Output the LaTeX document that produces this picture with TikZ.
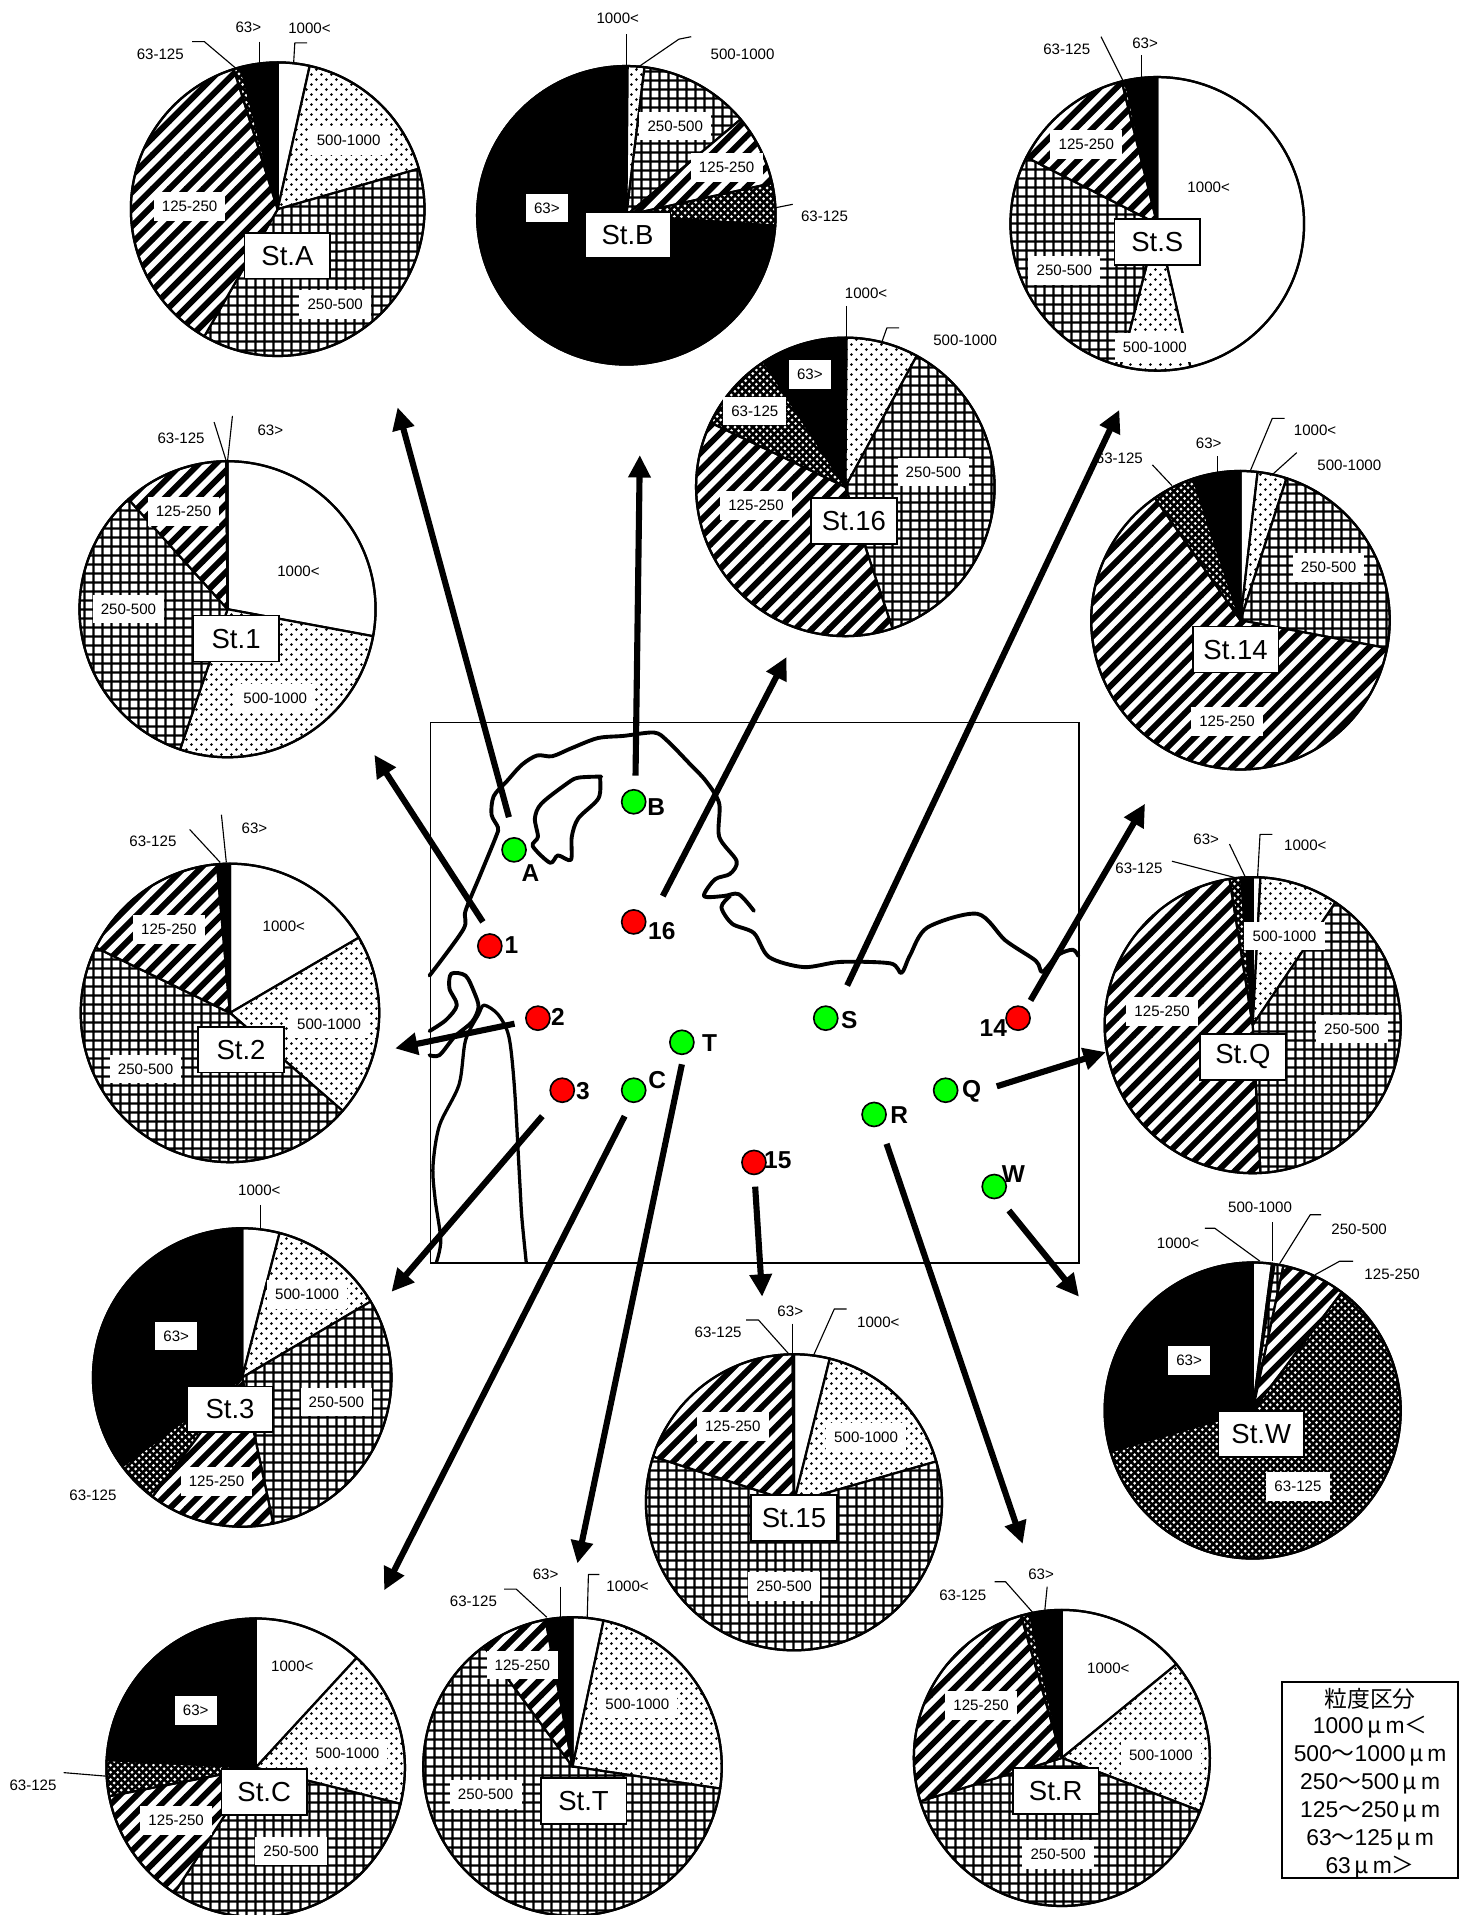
\documentclass[tikz,border=0pt]{standalone}
\usepackage{fontspec}
\setmainfont{Liberation Sans}
\newfontfamily\cjk{Noto Sans CJK JP}
\usetikzlibrary{arrows.meta,patterns}
\pgfdeclarepatternformonly{pgrid}{\pgfqpoint{0pt}{0pt}}{\pgfqpoint{4.4pt}{4.4pt}}{\pgfqpoint{4.4pt}{4.4pt}}{%
  \pgfsetlinewidth{1.15pt}%
  \pgfpathmoveto{\pgfqpoint{2.2pt}{0pt}}\pgfpathlineto{\pgfqpoint{2.2pt}{4.4pt}}%
  \pgfpathmoveto{\pgfqpoint{0pt}{2.2pt}}\pgfpathlineto{\pgfqpoint{4.4pt}{2.2pt}}%
  \pgfusepath{stroke}}
\pgfdeclarepatternformonly{pstripe}{\pgfqpoint{-1pt}{-1pt}}{\pgfqpoint{9.3pt}{9.3pt}}{\pgfqpoint{8.3pt}{8.3pt}}{%
  \pgfsetlinewidth{2.9pt}%
  \pgfpathmoveto{\pgfqpoint{-1pt}{-1pt}}\pgfpathlineto{\pgfqpoint{9.3pt}{9.3pt}}%
  \pgfusepath{stroke}}
\pgfdeclarepatternformonly{pdots}{\pgfqpoint{0pt}{0pt}}{\pgfqpoint{4.9pt}{4.9pt}}{\pgfqpoint{4.9pt}{4.9pt}}{%
  \pgfpathcircle{\pgfqpoint{1.2pt}{1.2pt}}{0.72pt}%
  \pgfpathcircle{\pgfqpoint{3.65pt}{3.65pt}}{0.72pt}%
  \pgfusepath{fill}}
\pgfdeclarepatternformonly{pcross}{\pgfqpoint{-.5pt}{-.5pt}}{\pgfqpoint{4pt}{4pt}}{\pgfqpoint{3.5pt}{3.5pt}}{%
  \pgfsetlinewidth{1.25pt}%
  \pgfpathmoveto{\pgfqpoint{-.5pt}{-.5pt}}\pgfpathlineto{\pgfqpoint{4pt}{4pt}}%
  \pgfpathmoveto{\pgfqpoint{-.5pt}{4pt}}\pgfpathlineto{\pgfqpoint{4pt}{-.5pt}}%
  \pgfusepath{stroke}}
\newcounter{nm}
\tikzset{
  pieline/.style={line width=1.1pt,line join=round},
  leaderline/.style={line width=0.55pt,line join=round},
  smalltext/.style={font=\fontsize{7.4pt}{8pt}\selectfont,inner sep=0pt},
  inlabel/.style={font=\fontsize{7.4pt}{8pt}\selectfont,fill=white,inner xsep=4pt,inner ysep=0pt,minimum height=14pt},
  stbox/.style={draw=black,line width=.8pt,fill=white,font=\fontsize{13.5pt}{15pt}\selectfont,minimum width=42pt,minimum height=22.5pt,inner sep=0pt},
  stat/.style={circle,draw=black,line width=.8pt,minimum size=11.8pt,inner sep=0pt},
  grn/.style={stat,fill=green},
  rd/.style={stat,fill=red},
  stlabel/.style={font=\fontsize{12pt}{14pt}\selectfont\bfseries,inner sep=0pt},
  bigarrow/.style={line width=3pt,-{Triangle[length=11pt,width=10.5pt]}},
  coast/.style={line width=1.9pt,line join=round,line cap=round},
  legendline/.style={font=\fontsize{11.2pt}{13pt}\selectfont,inner sep=0pt},
}
\newcommand\sect[3]{%
  \fill[white] (0,0) -- (90-#1:\pr) arc[start angle=90-#1,end angle=90-#2,radius=\pr] -- cycle;
  \fill[#3] (0,0) -- (90-#1:\pr) arc[start angle=90-#1,end angle=90-#2,radius=\pr] -- cycle;
  \draw[pieline] (0,0) -- (90-#1:\pr) arc[start angle=90-#1,end angle=90-#2,radius=\pr] -- cycle;}
\newcommand\piechart[8]{%
  \begin{scope}[shift={(#1,#2)},x=.6pt,y=.6pt]
  \def\pr{#3}
  \sect{0}{#4}{white}
  \sect{#4}{#5}{pattern=pdots}
  \sect{#5}{#6}{pattern=pgrid}
  \sect{#6}{#7}{pattern=pstripe}
  \sect{#7}{#8}{pattern=pcross}
  \sect{#8}{360}{black}
  \draw[pieline] (0,0) circle[radius=\pr];
  \end{scope}}
\newcommand\outl[3]{\stepcounter{nm}\node[smalltext] (t\thenm) at (#1,#2) {#3};}
\newcommand\inl[3]{\stepcounter{nm}\node[inlabel] (t\thenm) at (#1,#2) {#3};}
\newcommand\stb[3]{\stepcounter{nm}\node[stbox] (t\thenm) at (#1,#2) {#3};}
\newcommand\leadtwo[2]{\stepcounter{nm}\coordinate (la\thenm) at (#1); \coordinate (lb\thenm) at (#2); \draw[leaderline] (la\thenm) -- (lb\thenm);}
\newcommand\leadthree[3]{\stepcounter{nm}\coordinate (la\thenm) at (#1); \coordinate (lb\thenm) at (#2); \coordinate (lc\thenm) at (#3); \draw[leaderline] (la\thenm) -- (lb\thenm) -- (lc\thenm);}
\newcommand\bigarr[5]{\coordinate (ta#1) at (#2,#3); \coordinate (he#1) at (#4,#5); \draw[bigarrow] (ta#1) -- (he#1);}
\newcommand\mum{\,{\cjk μ}\,m}
\begin{document}
\begin{tikzpicture}[x=.6pt,y=-.6pt]
\useasboundingbox (0,0) rectangle (1200,1565.4);
\fill[white] (0,0) rectangle (1200,1565.4);
% St.A
\piechart{227}{171}{120}{12.6}{74}{210}{342.6}{345.5}
\inl{285}{115}{500-1000}\inl{274}{249}{250-500}\inl{155}{169}{125-250}
\outl{131}{44}{63-125}\outl{203}{22}{63>}\outl{253}{23}{1000<}
\leadthree{157,34}{167,34}{193,56}\leadtwo{212,34}{212,52}\leadthree{251,35}{241,35}{240,52}
\stb{235}{209}{St.A}
% St.B
\piechart{512}{176}{122}{0.5}{7}{50}{77.6}{94}
\inl{552}{103}{250-500}\inl{594}{137}{125-250}\inl{447}{170}{63>}
\outl{505}{15}{1000<}\outl{607}{44}{500-1000}\outl{674}{177}{63-125}
\leadtwo{512,28}{512,55}\leadthree{565,30}{555,32}{520,56}\leadtwo{633,170}{648,167}
\stb{513}{192}{St.B}
% St.S
\piechart{946}{183}{120}{167}{194.5}{297}{346}{347.5}
\inl{988}{153}{1000<}\inl{888}{118}{125-250}\inl{870}{221}{250-500}\inl{944}{284}{500-1000}
\outl{872}{40}{63-125}\outl{936}{35}{63>}
\leadtwo{900,30}{919,68}\leadtwo{933,45}{933,65}
\stb{946}{198}{St.S}
% St.16
\piechart{691}{398}{122}{0.5}{28.6}{161.6}{295.5}{327}
\inl{662}{306}{63>}\inl{617}{336}{63-125}\inl{763}{386}{250-500}\inl{618}{413}{125-250}
\outl{708}{240}{1000<}\outl{789}{278}{500-1000}
\leadtwo{692,250}{692,276}\leadthree{735,268}{725,268}{720,282}
\stb{698}{426}{St.16}
% St.1
\piechart{186}{498}{121}{100.5}{198.7}{318}{359.5}{359.7}
\inl{244}{467}{1000<}\inl{150}{418}{125-250}\inl{105}{498}{250-500}\inl{225}{571}{500-1000}
\outl{148}{358}{63-125}\outl{221}{352}{63>}
\leadtwo{175,345}{185,377}\leadtwo{190,340}{186,377}
\stb{193}{522}{St.1}
% St.14
\piechart{1014}{507}{122}{6.6}{18}{100.8}{325}{341.6}
\inl{1086}{464}{250-500}\inl{1003}{590}{125-250}
\outl{915}{375}{63-125}\outl{988}{362}{63>}\outl{1075}{352}{1000<}\outl{1103}{380}{500-1000}
\leadtwo{942,380}{958,397}\leadtwo{995,373}{995,386}\leadthree{1050,342}{1040,342}{1022,385}\leadtwo{1060,370}{1040,388}
\stb{1010}{531}{St.14}
% St.2
\piechart{188}{828}{122}{59.7}{131}{296}{355}{355.5}
\inl{232}{757}{1000<}\inl{138}{760}{125-250}\inl{269}{837}{500-1000}\inl{119}{874}{250-500}
\outl{125}{688}{63-125}\outl{208}{677}{63>}
\leadtwo{155,678}{180,705}\leadtwo{181,666}{185,705}
\stb{197}{858}{St.2}
% St.Q
\piechart{1024}{838}{121}{3}{34}{177}{351}{355.5}
\inl{1050}{765}{500-1000}\inl{950}{827}{125-250}\inl{1105}{841}{250-500}
\outl{931}{710}{63-125}\outl{986}{686}{63>}\outl{1067}{691}{1000<}
\leadtwo{958,704}{1012,718}\leadtwo{1005,690}{1018,717}\leadthree{1040,682}{1030,682}{1028,717}
\stb{1016}{864}{St.Q}
% St.3
\piechart{198}{1126}{122}{14.5}{59.4}{168}{217}{233.5}
\inl{251}{1058}{500-1000}\inl{144}{1092}{63>}\inl{275}{1146}{250-500}\inl{177}{1211}{125-250}
\outl{212}{973}{1000<}\outl{76}{1222}{63-125}
\leadtwo{213,985}{213,1005}
\stb{188}{1152}{St.3}
% St.W
\piechart{1024}{1153}{121}{7.5}{8.5}{12}{37}{254}
\inl{972}{1112}{63>}\inl{1061}{1215}{63-125}
\outl{1030}{987}{500-1000}\outl{963}{1016}{1000<}\outl{1111}{1005}{250-500}\outl{1138}{1042}{125-250}
\leadthree{985,1004}{993,1004}{1030,1031}\leadtwo{1040,999}{1040,1031}\leadthree{1080,993}{1071,993}{1046,1033}\leadthree{1106,1031}{1095,1031}{1075,1042}
\stb{1031}{1172}{St.W}
% St.15
\piechart{649}{1228}{121}{14}{74}{288}{359.5}{359.7}
\inl{599}{1166}{125-250}\inl{708}{1175}{500-1000}\inl{641}{1297}{250-500}
\outl{587}{1089}{63-125}\outl{646}{1072}{63>}\outl{718}{1081}{1000<}
\leadthree{610,1079}{620,1079}{645,1107}\leadtwo{648,1082}{648,1107}\leadthree{692,1070}{682,1070}{665,1108}
\stb{649}{1241}{St.15}
% St.C
\piechart{209}{1445}{122}{42.6}{104}{213}{259}{273}
\inl{239}{1362}{1000<}\inl{160}{1398}{63>}\inl{284}{1433}{500-1000}\inl{144}{1488}{125-250}\inl{238}{1513}{250-500}
\outl{27}{1459}{63-125}
\leadtwo{52,1449}{88,1452}
\stb{216}{1465}{St.C}
% St.T
\piechart{468}{1444}{122}{12}{98.5}{323.6}{349.6}{350.5}
\inl{427}{1361}{125-250}\inl{521}{1393}{500-1000}\inl{397}{1467}{250-500}
\outl{387}{1309}{63-125}\outl{446}{1287}{63>}\outl{513}{1297}{1000<}
\leadthree{412,1299}{422,1299}{447,1322}\leadtwo{458,1297}{458,1322}\leadthree{490,1287}{481,1287}{480,1323}
\stb{477}{1472}{St.T}
% St.R
\piechart{868}{1437}{121}{50.7}{111}{253}{344}{347.5}
\inl{906}{1364}{1000<}\inl{802}{1394}{125-250}\inl{949}{1435}{500-1000}\inl{865}{1516}{250-500}
\outl{787}{1304}{63-125}\outl{851}{1287}{63>}
\leadthree{813,1293}{822,1293}{845,1319}\leadtwo{856,1297}{854,1317}
\stb{863}{1464}{St.R}
% Map
\draw[line width=.8pt] (352,590.5) rectangle (882,1032.5);
\begin{scope}[shift={(343.3,572.2)},x=0.2127pt,y=-0.18144pt]
\draw[coast] plot[smooth,tension=.5] coordinates {(22,745)(100,620)(105,570)(140,470)(175,370)(180,345)(165,310)(170,260)(200,220)(235,175)(270,150)(305,152)(350,130)(410,103)(470,97)(540,88)(570,110)(620,170)(660,220)(690,280)(690,370)(730,435)(715,470)(680,485)(655,530)(700,530)(735,525)(770,570)};
\draw[coast] plot[smooth,tension=.5] coordinates {(715,530)(695,560)(720,605)(770,630)(805,695)(885,722)(970,708)(1085,712)(1110,738)(1130,690)(1170,615)(1285,578)(1350,650)(1420,705)(1435,735)(1470,690)(1505,675)(1518,692)};
\draw[coast] plot[smooth,tension=.5] coordinates {(22,895)(60,865)(85,825)(68,780)(72,740)(105,745)(125,790)(135,830)(120,870)(80,910)(45,960)(22,960)};
\draw[coast,line width=1.6pt] plot[smooth,tension=.5] coordinates {(38,1520)(48,1460)(35,1350)(30,1260)(45,1150)(90,1040)(105,920)(135,850)(148,825)(180,850)(205,910)(218,1050)(230,1300)(235,1400)(245,1520)};
\draw[coast] plot[smooth,tension=.5] coordinates {(418,207)(365,210)(340,225)(280,280)(265,320)(272,370)(260,395)(300,440)(318,420)(348,432)(350,370)(365,320)(412,265)(415,207)};
\end{scope}
% arrows
\bigarr{A}{416}{668}{325}{333}
\bigarr{B}{519.5}{634}{523}{372}
\bigarr{P}{541.8}{732.5}{643}{537}
\bigarr{S}{692.5}{805.6}{915}{335}
\bigarr{N}{842.4}{817.8}{936}{657}
\bigarr{I}{394.7}{753.6}{306}{617}
\bigarr{II}{420.6}{836.8}{323}{857}
\bigarr{III}{443.3}{912.4}{320}{1056}
\bigarr{C}{510.6}{912.4}{314}{1300}
\bigarr{T}{557.4}{870}{472}{1278}
\bigarr{V}{617.3}{970}{623}{1060}
\bigarr{R}{724.7}{935}{836}{1262}
\bigarr{W}{824.7}{989.5}{882}{1060}
\bigarr{Q}{814.8}{888}{904}{860}
% stations
\node[grn] (sA) at (420.2,694.7) {};
\node[grn] (sB) at (518,655.4) {};
\node[rd] (s1) at (400.4,773.3) {};
\node[rd] (s16) at (518,753.6) {};
\node[rd] (s2) at (439.7,832.3) {};
\node[rd] (s3) at (459.6,891.2) {};
\node[grn] (sC) at (518,891.2) {};
\node[grn] (sT) at (557.4,852) {};
\node[grn] (sS) at (675,832.3) {};
\node[rd] (s14) at (832.2,832.3) {};
\node[grn] (sQ) at (773,891.2) {};
\node[grn] (sR) at (714.5,911) {};
\node[rd] (s15) at (616.3,950.2) {};
\node[grn] (sW) at (812.7,969.9) {};
\node[stlabel] (lA) at (433.7,713.7) {A};
\node[stlabel] (lB) at (536.5,659.9) {B};
\node[stlabel] (l1) at (418,772.4) {1};
\node[stlabel] (l16) at (541,761.2) {16};
\node[stlabel] (l2) at (456,831.4) {2};
\node[stlabel] (l3) at (476.6,892) {3};
\node[stlabel] (lC) at (537.2,883) {C};
\node[stlabel] (lT) at (580,852.8) {T};
\node[stlabel] (lS) at (694.3,833.8) {S};
\node[stlabel] (l14) at (812,840.4) {14};
\node[stlabel] (lQ) at (794.2,892) {Q};
\node[stlabel] (lR) at (735,911.5) {R};
\node[stlabel] (l15) at (635.8,948.7) {15};
\node[stlabel] (lW) at (828.3,959.9) {W};
% legend
\node[draw=black,line width=1.1pt,fill=white,minimum width=86.4pt,minimum height=96pt,inner sep=0pt] (legendbox) at (1120,1455) {};
\node[legendline] (g0) at (1120,1389) {\cjk 粒度区分};
\node[legendline] (g1) at (1120,1412) {1000\mum{\cjk ＜}};
\node[legendline] (g2) at (1120,1435) {500{\cjk ～}1000\mum};
\node[legendline] (g3) at (1120,1458) {250{\cjk ～}500\mum};
\node[legendline] (g4) at (1120,1481) {125{\cjk ～}250\mum};
\node[legendline] (g5) at (1120,1504) {63{\cjk ～}125\mum};
\node[legendline] (g6) at (1120,1526) {63\mum{\cjk ＞}};
\end{tikzpicture}
\end{document}
